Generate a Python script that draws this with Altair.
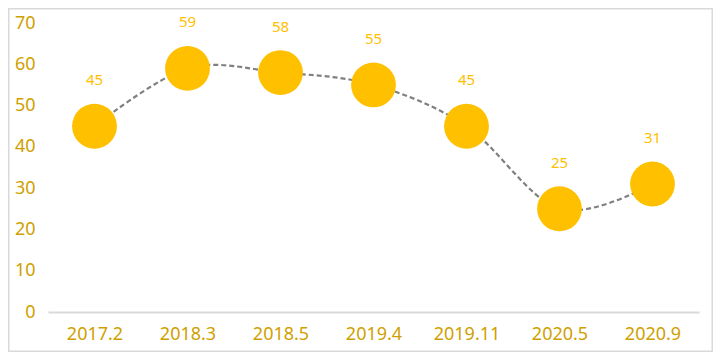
import altair as alt
import pandas as pd

categories = ["2017.2", "2018.3", "2018.5", "2019.4", "2019.11", "2020.5", "2020.9"]
values = [45, 59, 58, 55, 45, 25, 31]
y_ticks = [0, 10, 20, 30, 40, 50, 60, 70]

df = pd.DataFrame({"cat": categories, "val": values})

W, H = 651, 289
PL, PT, PR, PB = 40, 15, 14, 40
FONT = "Noto Sans"
AXIS_COLOR = "#CF9F00"

x = alt.X("cat:N", sort=categories, title=None,
          scale=alt.Scale(paddingInner=0, paddingOuter=0.0),
          axis=alt.Axis(labelAngle=0, ticks=False, domainColor="#D9D9D9", domainWidth=2,
                        labelColor=AXIS_COLOR, labelFontSize=18, labelFont=FONT,
                        labelBaseline="middle", labelPadding=22, grid=False))
y = alt.Y("val:Q", title=None,
          scale=alt.Scale(domain=[0, 70], nice=False, zero=True),
          axis=alt.Axis(values=y_ticks, ticks=False, domain=False, grid=False,
                        labelColor=AXIS_COLOR, labelFontSize=18, labelFont=FONT,
                        labelPadding=13, labelBaseline="middle"))

base = alt.Chart(df)

line = base.mark_line(interpolate="cardinal", color="#808080", strokeWidth=2.2,
                      strokeDash=[5, 3]).encode(x=x, y=y)
points = base.mark_circle(size=2010, color="#FFC000", opacity=1).encode(x=x, y=y)
labels = base.mark_text(dy=-46, color="#FFC000", fontSize=15, font=FONT).encode(
    x=x, y=y, text="val:Q")

border = alt.Chart(alt.Data(values=[{"a": 1}])).mark_rect(
    filled=False, stroke="#D9D9D9", strokeWidth=1.5).encode(
    x=alt.value(-PL + 0.75), x2=alt.value(W + PR - 0.75),
    y=alt.value(-PT + 0.75), y2=alt.value(H + PB - 0.75))

chart = alt.layer(border, line, points, labels).properties(
    width=W, height=H,
    autosize=alt.AutoSizeParams(type="none"),
    padding={"left": PL, "top": PT, "right": PR, "bottom": PB},
).configure(background="white", view=alt.ViewConfig(stroke=None))

chart.save("out.html", embed_options={"renderer": "svg", "actions": False})
